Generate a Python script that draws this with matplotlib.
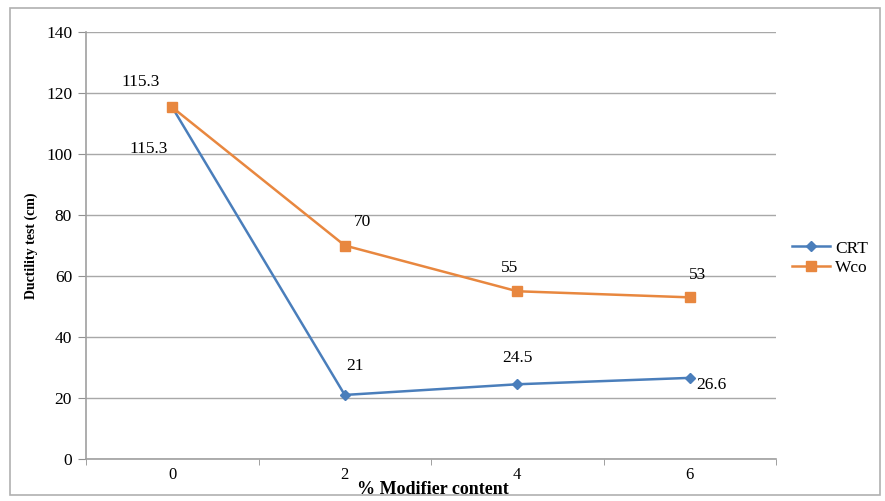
import matplotlib
matplotlib.use("Agg")
import matplotlib.pyplot as plt
from matplotlib.patches import Rectangle

categories = ["0", "2", "4", "6"]
crt = [115.3, 21, 24.5, 26.6]
wco = [115.3, 70, 55, 53]
yticks = [0, 20, 40, 60, 80, 100, 120, 140]

plt.rcParams['font.family'] = ['Liberation Serif', 'DejaVu Serif']

fig = plt.figure(figsize=(8.85, 5.01), dpi=100)
fig.patches.append(Rectangle((10/885, 1-495/501), 870/885, 487/501, transform=fig.transFigure,
                             fill=False, edgecolor='#b0b0b0', linewidth=1.2))
ax = fig.add_axes([86/885, 1-459/501, 690/885, 427/501])

x = list(range(len(categories)))
blue = '#4A7EBB'
orange = '#E8873F'
ax.plot(x, crt, color=blue, marker='D', markersize=5, linewidth=1.8, label='CRT', zorder=3)
ax.plot(x, wco, color=orange, marker='s', markersize=7, linewidth=1.8, label='Wco', zorder=3)

ax.set_xlim(-0.5, len(categories) - 0.5)
ax.set_ylim(0, 140)
ax.set_yticks(yticks)
ax.set_xticks(x)
ax.set_xticklabels(categories)
ax.set_xticks([i - 0.5 for i in range(len(categories) + 1)], minor=True)
ax.tick_params(axis='x', which='major', length=0, labelsize=12, pad=6)
ax.tick_params(axis='x', which='minor', length=4, color='#909090')
ax.tick_params(axis='y', length=6, color='#909090', labelsize=12.5, pad=4)
ax.grid(axis='y', color='#a8a8a8', linewidth=1)
ax.set_axisbelow(True)
for s in ['top', 'right']:
    ax.spines[s].set_visible(False)
for s in ['left', 'bottom']:
    ax.spines[s].set_color('#a0a0a0')
    ax.spines[s].set_linewidth(1.2)

crt_off = [(-24, -42), (10, 29), (0, 26), (22, -7)]
wco_off = [(-32, 25), (18, 24), (-8, 23), (8, 22)]
for i in x:
    ax.annotate(f"{crt[i]:g}", (i, crt[i]), xytext=crt_off[i], textcoords='offset pixels',
                ha='center', va='center', fontsize=12.5)
    ax.annotate(f"{wco[i]:g}", (i, wco[i]), xytext=wco_off[i], textcoords='offset pixels',
                ha='center', va='center', fontsize=12.5)

ax.set_ylabel("Ductility test (cm)", fontweight='bold', fontsize=10, labelpad=6)
fig.text(433/885, 1-489/501, "% Modifier content", ha='center', va='center',
         fontweight='bold', fontsize=13)

ax.legend(loc='center left', bbox_to_anchor=(1.0, 0.47), frameon=False, fontsize=12.5,
          handlelength=2.2, handletextpad=0.3, labelspacing=0.2, borderaxespad=0.5)

fig.savefig("out.png", dpi=100)
